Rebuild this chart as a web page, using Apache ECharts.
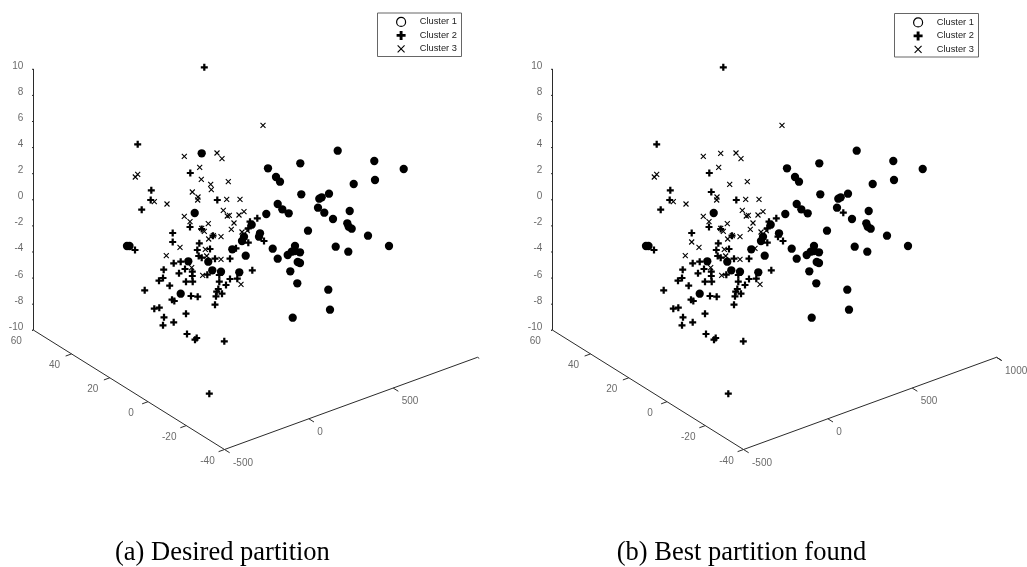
<!DOCTYPE html>
<html>
<head>
<meta charset="utf-8">
<style>html,body{margin:0;padding:0;background:#fff}#c{width:1027px;height:567px}</style>
<script src="https://cdn.jsdelivr.net/npm/echarts@6/dist/echarts.min.js"></script>
</head>
<body>
<div id="c"></div>
<script>
// Marks: [horizontal, vertical] on the projected plane of the 3-D view.
const sharedCluster1 = [[94,84],[96.5,84],[161.7,117],[218.7,105.3],[211,93.3],[209,89],[227,96.7],[199.3,80.7],[212.7,74.3],[155.3,68.7],[175.3,68.3],[179.3,59.7],[188,58.3],[206.3,57.7],[147.7,36.3],[304.7,179.3],[341.3,169],[370.7,161],[235,161.7],[267.3,166.7],[243,153],[247,148.3],[342,150],[320.7,146],[268.3,135.7],[296,136.3],[288.7,132.7],[286.3,131.3],[244.7,126],[249.3,120.7],[255.7,116.7],[233.3,116],[285,122.3],[316.7,119],[300,111],[314.3,106.7],[315.7,103.3],[318.7,101.3],[275,99.3],[335,94.3],[239.7,81.3],[262,84],[356,84],[302.7,83.3],[315.3,78.3],[244.7,71.3],[254.7,75],[258.7,78.3],[267,77.7],[262,79],[264.7,68],[267,67],[257.3,58.7],[264.3,46.7],[295.3,40.3],[297,20.3],[259.7,12.3]];
const sharedCluster2 = [[171.3,262.7],[104.7,185.7],[157.3,157],[118.3,139.7],[117.7,130],[184.3,130],[108.7,120.3],[157,103],[168.7,101],[139.7,97],[180,94.3],[224.3,111.7],[217,108.3],[215.3,101.7],[215.3,87.3],[231,89],[166.3,86.7],[164.3,80],[165.7,74],[177,81],[102,80],[140.7,66.7],[147.7,68.3],[168.7,72.3],[182,71.3],[197,71.3],[152,61],[130.7,60.3],[146,56.7],[159.3,58.3],[159.3,54],[219.3,59.7],[174.3,55.3],[186.3,55],[130,52],[126,49.3],[153,48.3],[159.7,48.3],[186.3,48.3],[197,51],[204.3,51.3],[193,45],[136.7,44.3],[111.7,39.7],[185.3,41],[183.7,38.3],[189,36.3],[183,33.7],[158,34],[164.7,33.3],[139,30.3],[141.3,29],[182,25.3],[121.3,21.3],[126.3,22.3],[153,16.3],[131,12.7],[140.7,7.7],[130,4.7],[154,-4],[163.7,-8],[162,-9.7],[191.3,-11.3],[176.3,-63.7]];
const sharedCluster3 = [[151.3,173.7],[184,177],[189,171.3],[166.7,162.7],[177.7,145.7],[195.3,148.3],[165,133],[164.7,130],[104.7,155.7],[102.3,153],[193.7,130.7],[207,130.7],[121.3,128.3],[134,126],[151.3,113.7],[190.3,119.7],[194.3,114],[196.3,114.7],[206,115],[211,118.3],[157,108.3],[175.3,106.3],[201,107],[198.3,100.7],[168.7,101.7],[171.3,98.7],[209,98],[214.3,99.3],[180.3,94.3],[188,93.3],[175.7,91],[172.3,80.7],[173.7,74],[147,82.7],[133.3,74.3],[188,70.7],[158.7,62.3],[169.7,54.7],[208,45.7],[230,204.7]];
const desiredOnly1 = [[168.7,176.7],[291.3,117.3],[226,93.3]];
const desiredOnly2 = [[139.7,88],[203,81.7]];
const desiredOnly3 = [[159.3,138],[168.3,150.7],[178.3,140.3]];
const foundOnly1 = [];
const foundOnly2 = [[291.3,117.3],[226,93.3],[159.3,138]];
const foundOnly3 = [[168.7,176.7],[139.7,88],[203,81.7]];

const clusterNames = ['Cluster 1', 'Cluster 2', 'Cluster 3'];
const xTicksA = [-500, 0, 500];
const xTicksB = [-500, 0, 500, 1000];
const yTicks = [-40, -20, 0, 20, 40, 60];
const zTicks = [-10, -8, -6, -4, -2, 0, 2, 4, 6, 8, 10];
const captions = ['(a) Desired partition', '(b) Best partition found'];

// Projection of the 3-D box onto the plane
function proj(x, y, z) {
  return [0.3 + (x + 500) * 0.16867 + (60 - y) * 1.912,
          (z + 10) * 13.05 + (x + 500) * 0.06147 - (60 - y) * 1.195];
}
const PLUS = 'path://M3.4 0H6.6V3.4H10V6.6H6.6V10H3.4V6.6H0V3.4H3.4Z';
const CROSS = 'path://M0 0L10 10M10 0L0 10';
const CROSS_ICON = 'path://M-1.5 -1.5L-1.5 -1.5M0 0L10 10M10 0L0 10M11.5 11.5L11.5 11.5';
const AXIS = '#2b2b2b', TEXT = '#454545', FONT = '"Liberation Sans", Arial, sans-serif';
const SERIF = '"Liberation Serif", "Times New Roman", serif';

function tickLabels(pts, idx, align, ox, oy) {
  return {
    type: 'scatter', xAxisIndex: idx, yAxisIndex: idx, silent: true, clip: false,
    symbolSize: 1, itemStyle: { color: 'transparent' },
    data: pts.map(p => ({ value: p.pos, label: { formatter: String(p.text) } })),
    label: { show: true, position: 'inside', align: align, verticalAlign: 'middle', offset: [ox, oy],
             color: TEXT, fontSize: 10, fontFamily: FONT }
  };
}
function panel(idx, xTicks, endTick, c1, c2, c3) {
  const seg = [];
  const add = (a, b) => seg.push({ coords: [a, b] });
  add(proj(-500, 60, -10), proj(-500, 60, 10));
  add(proj(-500, 60, -10), proj(-500, -40, -10));
  add(proj(-500, -40, -10), proj(1000, -40, -10));
  zTicks.forEach(z => add(proj(-500, 60, z), proj(-535, 60, z)));
  yTicks.forEach(y => add(proj(-500, y, -10), proj(-535, y, -10)));
  xTicks.forEach(x => add(proj(x, -40, -10), proj(x, -42.7, -10)));
  add(proj(1000, -40, -10), proj(1000, -40 - endTick, -10));
  const lines = { type: 'lines', coordinateSystem: 'cartesian2d', xAxisIndex: idx, yAxisIndex: idx, silent: true,
    polyline: false, symbol: 'none', data: seg, lineStyle: { color: AXIS, width: 1, opacity: 1, curveness: 0 }, z: 1 };
  const dots = [
    { name: clusterNames[0], type: 'scatter', data: c1, symbol: 'circle', symbolSize: 8.3, itemStyle: { color: '#000', opacity: 1 } },
    { name: clusterNames[1], type: 'scatter', data: c2, symbol: PLUS, symbolSize: 7, itemStyle: { color: '#000', opacity: 1 } },
    { name: clusterNames[2], type: 'scatter', data: c3, symbol: CROSS, symbolSize: 5, itemStyle: { color: 'transparent', borderColor: '#000', borderWidth: 1.1, opacity: 1 } }
  ].map(s => Object.assign(s, { xAxisIndex: idx, yAxisIndex: idx, clip: false, silent: true, z: 3 }));
  const labels = [
    tickLabels(zTicks.map(z => ({ pos: proj(-500, 60, z), text: z })), idx, 'right', -10, -3),
    tickLabels(yTicks.map(y => ({ pos: proj(-500, y, -10), text: y })), idx, 'center', -17, 11.5),
    tickLabels(xTicks.map(x => ({ pos: proj(x, -40, -10), text: x })), idx, 'left', 8.5, 13.5)
  ];
  return [lines].concat(dots, labels);
}
function legend(left, top) {
  return {
    left: left, top: top, orient: 'vertical', padding: 0, itemWidth: 27.2, itemHeight: 9, itemGap: 3.9,
    selectedMode: false, align: 'left',
    textStyle: { color: '#222', fontSize: 9.3, fontFamily: FONT },
    data: [
      { name: clusterNames[0], icon: 'circle', itemStyle: { color: '#fff', borderColor: '#000', borderWidth: 1.2, opacity: 1 } },
      { name: clusterNames[1], itemStyle: { color: '#000', borderWidth: 0, opacity: 1 } },
      { name: clusterNames[2], icon: CROSS_ICON, itemStyle: { color: 'transparent', borderColor: '#000', borderWidth: 1.1, opacity: 1 } }
    ]
  };
}
function legendBox(x, y) {
  return { type: 'rect', silent: true, z: -1, shape: { x: x, y: y, width: 84, height: 43.5 },
           style: { fill: '#fff', stroke: '#666', lineWidth: 1 } };
}
const captionStyle = { fontFamily: SERIF, fontSize: 26.5, fontWeight: 'normal', color: '#000' };
const axisBase = { show: false, type: 'value' };
const option = {
  animation: false,
  backgroundColor: '#fff',
  title: [
    { text: captions[0], left: 115, top: 540, textStyle: captionStyle, padding: 0 },
    { text: captions[1], left: 616.7, top: 540, textStyle: captionStyle, padding: 0 }
  ],
  graphic: [legendBox(377.5, 13), legendBox(894.5, 13.5)],
  legend: [legend(396, 16.8), legend(913, 17.3)],
  grid: [
    { left: 33, top: 0, width: 486, height: 567 },
    { left: 552, top: 0, width: 475, height: 567 }
  ],
  xAxis: [Object.assign({ min: 0, max: 486, gridIndex: 0 }, axisBase), Object.assign({ min: 0, max: 475, gridIndex: 1 }, axisBase)],
  yAxis: [Object.assign({ min: -237, max: 330, gridIndex: 0 }, axisBase), Object.assign({ min: -237, max: 330, gridIndex: 1 }, axisBase)],
  series: [].concat(
    panel(0, xTicksA, 0.9, sharedCluster1.concat(desiredOnly1), sharedCluster2.concat(desiredOnly2), sharedCluster3.concat(desiredOnly3)),
    panel(1, xTicksB, 2.7, sharedCluster1.concat(foundOnly1), sharedCluster2.concat(foundOnly2), sharedCluster3.concat(foundOnly3))
  )
};
echarts.init(document.getElementById('c'), null, { renderer: 'canvas' }).setOption(option);
</script>
</body>
</html>
